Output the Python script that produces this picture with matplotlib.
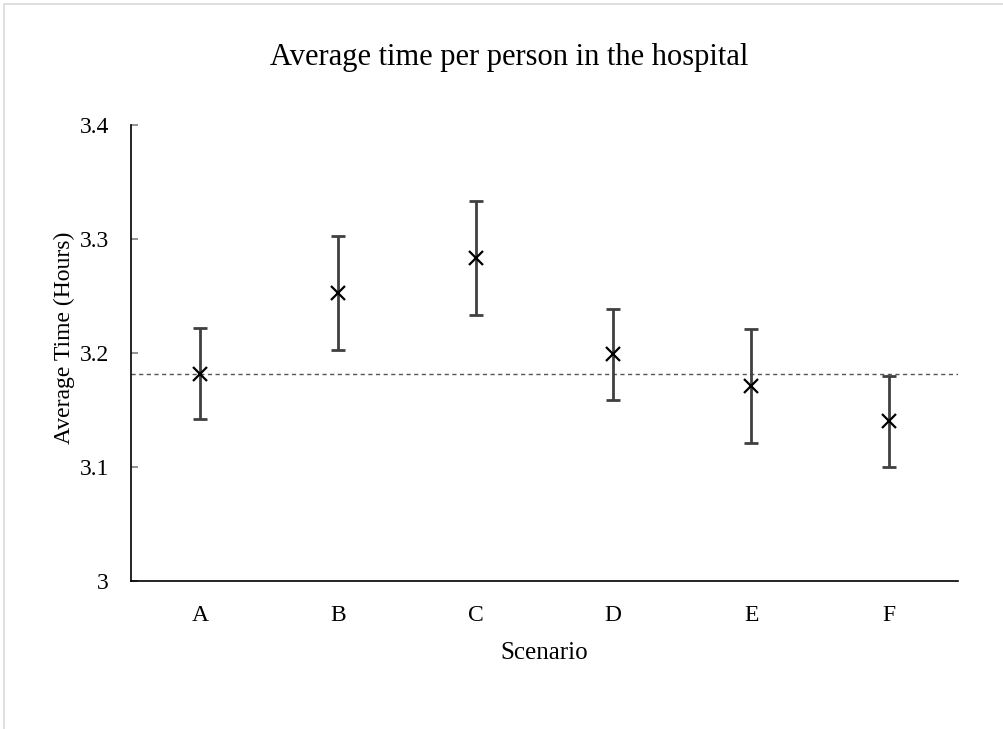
import matplotlib.pyplot as plt
from matplotlib.patches import Rectangle

scenarios = ['A', 'B', 'C', 'D', 'E', 'F']
avg_time = [3.182, 3.253, 3.283, 3.199, 3.171, 3.140]
err = [0.040, 0.050, 0.050, 0.040, 0.050, 0.040]
baseline = 3.182

plt.rcParams['font.family'] = ['Liberation Serif', 'DejaVu Serif']

fig = plt.figure(figsize=(10.04, 7.29), dpi=100)
ax = fig.add_axes([0.1305, 0.203, 0.8235, 0.6255])

x = list(range(len(scenarios)))
ax.errorbar(x, avg_time, yerr=err, fmt='none', ecolor='#404040',
            elinewidth=2.0, capsize=5, capthick=2.0, zorder=3)
ax.plot(x, avg_time, 'x', color='black', markersize=10, markeredgewidth=1.6, zorder=4)
ax.axhline(baseline, linestyle=(0, (3, 2.5)), color='#555555', linewidth=1, zorder=2)

ax.set_xlim(-0.5, 5.5)
ax.set_ylim(3.0, 3.4)
ax.set_xticks(x)
ax.set_xticklabels(scenarios)
ax.set_yticks([3.0, 3.1, 3.2, 3.3, 3.4])
ax.set_yticklabels(['3', '3.1', '3.2', '3.3', '3.4'])
ax.tick_params(axis='x', length=0, pad=17, labelsize=17)
ax.tick_params(axis='y', direction='in', length=5, width=1.2, color='#808080',
               pad=16, labelsize=17)
for s in ['top', 'right']:
    ax.spines[s].set_visible(False)
for s in ['left', 'bottom']:
    ax.spines[s].set_linewidth(1.2)

ax.set_xlabel('Scenario', fontsize=18, labelpad=12)
fig.text(64 / 1004, 1 - 338 / 729, 'Average Time (Hours)', rotation=90,
         ha='center', va='center', fontsize=17)
fig.text(509 / 1004, 1 - 57 / 729, 'Average time per person in the hospital',
         ha='center', va='center', fontsize=22)

# chart border (cropped on the right/bottom)
fig.patches.append(Rectangle((4 / 1004, -0.1), 1.2, 1 - 4 / 729 + 0.1,
                             transform=fig.transFigure, fill=False,
                             edgecolor='#d9d9d9', linewidth=1.2))

fig.savefig('out.png', dpi=100)
